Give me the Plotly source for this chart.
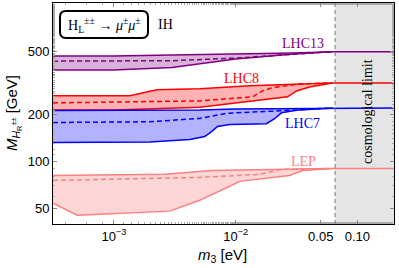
import math
import plotly.graph_objects as go

# ---------------- data (m3 in eV, M in GeV) ----------------
lhc13_up_m = [3.16e-4, 1e-3, 3e-3, 1e-2, 3e-2, 0.0624, 0.2]
lhc13_up_M = [469, 469, 476, 483, 490, 500, 500]
lhc13_lo_m = [3.16e-4, 1e-3, 3e-3, 5.07e-3, 1e-2, 3e-2, 0.0624]
lhc13_lo_M = [382, 382, 396, 417, 449, 483, 500]
lhc13_da_m = [3.16e-4, 1e-3, 3e-3, 1e-2, 3e-2, 0.0624]
lhc13_da_M = [435, 435, 438, 455, 483, 500]

lhc8_up_m = [3.16e-4, 1.35e-3, 2.25e-3, 5.07e-3, 1.3e-2, 3.35e-2, 0.0624, 0.2]
lhc8_up_M = [262, 262, 286, 290, 303, 312, 316, 316]
lhc8_lo_m = [3.16e-4, 1e-3, 5.07e-3, 1.3e-2, 2.67e-2, 3.16e-2, 4.05e-2, 0.0624]
lhc8_lo_M = [213, 213, 221, 240, 258, 281, 298, 316]
lhc8_da_m = [3.16e-4, 5.07e-3, 1.38e-2, 1.66e-2, 1.97e-2, 3.35e-2, 0.0624]
lhc8_da_M = [236, 243, 258, 281, 294, 312, 316]

lhc7_up_m = [3.16e-4, 5.07e-3, 1e-2, 3.35e-2, 0.0624, 0.2]
lhc7_up_M = [211, 213, 216, 217, 219, 219]
lhc7_lo_m = [3.16e-4, 1.97e-3, 4.2e-3, 5.57e-3, 6.35e-3, 7.1e-3, 8.93e-3,
             1.79e-2, 2.09e-2, 2.38e-2, 3.35e-2, 0.0624]
lhc7_lo_M = [132, 133, 138, 144, 155, 167, 172, 174, 187, 204, 213, 219]
lhc7_da_m = [3.16e-4, 1.97e-3, 5.07e-3, 6.73e-3, 8.6e-3, 2.3e-2, 0.0624]
lhc7_da_M = [177, 179, 188, 195, 203, 210, 219]

lep_up_m = [3.16e-4, 2.6e-3, 6.35e-3, 1.4e-2, 3.5e-2, 0.0624, 0.2]
lep_up_M = [81.5, 82.8, 87.7, 88.5, 89.5, 90.3, 90.3]
lep_lo_m = [3.16e-4, 4.98e-4, 2.88e-3, 5.07e-3, 8.93e-3, 1.08e-2, 2.77e-2,
            3.54e-2, 0.0624]
lep_lo_M = [54.3, 45.5, 48.3, 56.6, 69.5, 74.7, 81.5, 87.7, 90.3]
lep_da_m = [3.16e-4, 5.07e-3, 1.57e-2, 2.38e-2, 0.0624]
lep_da_M = [75.8, 79.2, 82.8, 89.0, 90.3]

cosmo_limit = 0.0656
x_range = [3.16e-4, 0.2]
y_range = [40, 1020]

xtick_vals = [1e-3, 1e-2, 0.05, 0.1]
xtick_text = ["10<sup>\u22123</sup>", "10<sup>\u22122</sup>", "0.05", "0.10"]
ytick_vals = [50, 100, 200, 500]
ytick_text = ["50", "100", "200", "500"]

series = [
    ("LHC13", lhc13_up_m, lhc13_up_M, lhc13_lo_m, lhc13_lo_M, lhc13_da_m, lhc13_da_M,
     "#800080", "rgba(128,0,128,0.3)"),
    ("LHC8", lhc8_up_m, lhc8_up_M, lhc8_lo_m, lhc8_lo_M, lhc8_da_m, lhc8_da_M,
     "#ff0000", "rgba(255,0,0,0.3)"),
    ("LHC7", lhc7_up_m, lhc7_up_M, lhc7_lo_m, lhc7_lo_M, lhc7_da_m, lhc7_da_M,
     "#0000ff", "rgba(0,0,255,0.3)"),
    ("LEP", lep_up_m, lep_up_M, lep_lo_m, lep_lo_M, lep_da_m, lep_da_M,
     "#ff7f7f", "rgba(255,90,90,0.25)"),
]

fig = go.Figure()

# cosmological limit region
fig.add_vrect(x0=cosmo_limit, x1=x_range[1], fillcolor="#e5e5e5", line_width=0,
              layer="below")
fig.add_vline(x=cosmo_limit, line=dict(color="#777777", width=1, dash="4px,3px"))

for name, um, uM, lm, lM, dm, dM, col, fcol in series:
    fig.add_trace(go.Scatter(x=list(lm) + list(um)[::-1], y=list(lM) + list(uM)[::-1],
                             fill="toself", fillcolor=fcol, line=dict(width=0),
                             mode="lines", hoverinfo="skip", showlegend=False))
    fig.add_trace(go.Scatter(x=um, y=uM, mode="lines", line=dict(color=col, width=1.5),
                             showlegend=False))
    fig.add_trace(go.Scatter(x=lm, y=lM, mode="lines", line=dict(color=col, width=1.5),
                             showlegend=False))
    fig.add_trace(go.Scatter(x=dm, y=dM, mode="lines",
                             line=dict(color=col, width=1.5, dash="5px,3px"),
                             showlegend=False))

serif = "Liberation Serif"
sans = "Liberation Sans"

def px(x):
    return (x - 53) / 341

def py(y):
    return (224 - y) / 221

def note(x, y, text, size, color="black", family=serif, angle=0):
    fig.add_annotation(x=px(x), y=py(y), xref="paper", yref="paper", text=text,
                       xanchor="center", yanchor="middle", textangle=angle,
                       showarrow=False, font=dict(family=family, size=size, color=color))

labels = [("LHC13", 303, 43, "#800080"), ("LHC8", 242, 78, "#ff0000"),
          ("LHC7", 302, 123, "#0000ff"), ("LEP", 303, 161, "#ff7f7f")]
for t, x, y, c in labels:
    note(x, y, t, 14, c)

note(367, 112, "cosmological limit", 14, angle=-90)

# legend box
r_x, r_y = 6 / 341, 6 / 221
x0, x1, y0, y1 = px(60), px(148), py(38), py(11)
path = (f"M {x0 + r_x},{y0} L {x1 - r_x},{y0} Q {x1},{y0} {x1},{y0 + r_y} "
        f"L {x1},{y1 - r_y} Q {x1},{y1} {x1 - r_x},{y1} L {x0 + r_x},{y1} "
        f"Q {x0},{y1} {x0},{y1 - r_y} L {x0},{y0 + r_y} Q {x0},{y0} {x0 + r_x},{y0} Z")
fig.add_shape(type="path", path=path, xref="paper", yref="paper",
              line=dict(color="black", width=2), fillcolor="white")
note(104, 25, "H<sub>L</sub><sup>\u00b1\u00b1</sup> \u2192 <i>\u03bc</i><sup>\u00b1</sup><i>\u03bc</i><sup>\u00b1</sup>", 14)
note(165, 25, "IH", 14)

# axis titles
note(222, 255, "<i>m</i><sub>3</sub> [eV]", 15, family=sans)
note(13, 113, "<i>M</i><sub><i>H</i><sub>R</sub><sup>\u00b1\u00b1</sup></sub> [GeV]", 15,
     family=sans, angle=-90)

axis_common = dict(type="log", ticks="inside", ticklen=4, tickcolor="#888",
                   showgrid=False, zeroline=False, showline=True, linecolor="black",
                   linewidth=1, mirror="allticks",
                   minor=dict(ticks="inside", ticklen=2, tickcolor="#aaa", showgrid=False),
                   tickfont=dict(family=sans, size=13, color="black"))
fig.update_xaxes(range=[math.log10(x_range[0]), math.log10(x_range[1])],
                 tickvals=xtick_vals, ticktext=xtick_text, **axis_common)
fig.update_yaxes(range=[math.log10(y_range[0]), math.log10(y_range[1])],
                 tickvals=ytick_vals, ticktext=ytick_text, **axis_common)

fig.update_layout(width=399, height=268, margin=dict(l=53, r=5, t=3, b=44),
                  plot_bgcolor="white", paper_bgcolor="white", showlegend=False)

fig.write_html("out.html", config={"displayModeBar": False},
               post_script="document.body.style.margin='0';")
